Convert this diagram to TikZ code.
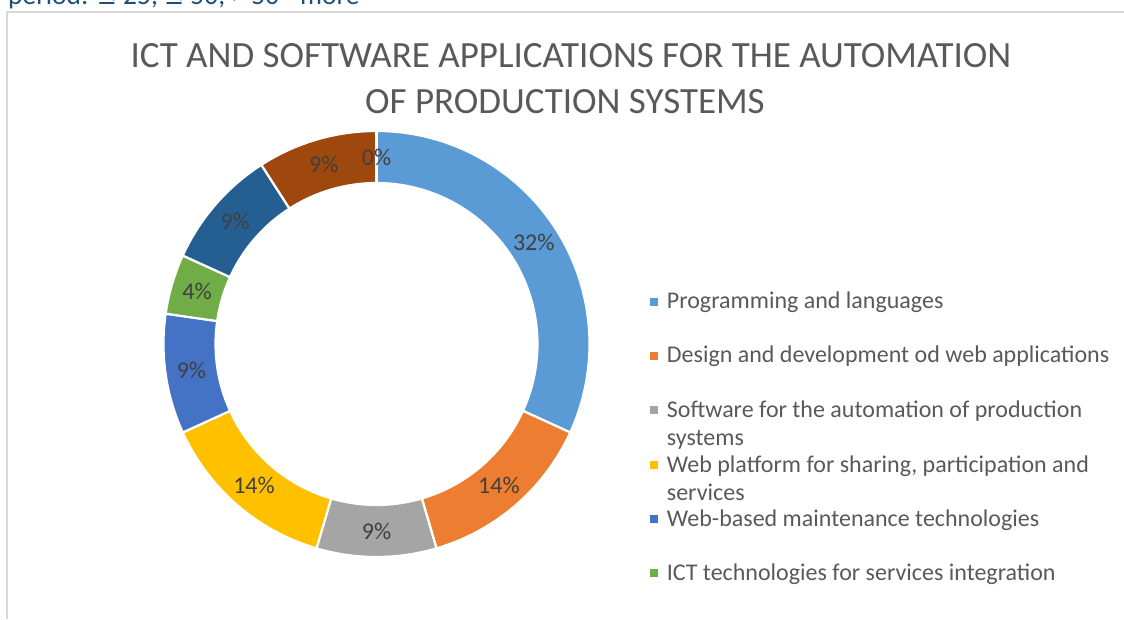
\documentclass[tikz,border=0pt]{standalone}
\usepackage{fontspec}
\setmainfont{Carlito}
\newfontfamily\symfont{DejaVu Sans}
\usetikzlibrary{positioning, calc}
\usepackage{xcolor}

\definecolor{progblue}{HTML}{5B9BD5}
\definecolor{webdevorange}{HTML}{ED7D31}
\definecolor{autogray}{HTML}{A5A5A5}
\definecolor{platyellow}{HTML}{FFC000}
\definecolor{maintblue}{HTML}{4472C4}
\definecolor{ictgreen}{HTML}{70AD47}
\definecolor{deepblue}{HTML}{255E91}
\definecolor{rustbrown}{HTML}{9E480E}
\definecolor{titlegray}{HTML}{595959}
\definecolor{pctgray}{HTML}{404040}
\definecolor{framegray}{HTML}{D9D9D9}
\definecolor{headblue}{HTML}{1F4E79}

% legend entry, first line on the baseline
\newcommand{\keyentry}[1]{\parbox[t]{460pt}{\raggedright #1}}

\begin{document}
\begin{tikzpicture}[
    x=1pt, y=1pt,
    slice/.style={draw=white, line width=2.2pt},
    pct/.style={text=pctgray, font=\fontsize{24}{28}\selectfont, inner sep=0pt},
    heading/.style={anchor=base, text=titlegray, font=\fontsize{37}{44}\selectfont, inner sep=0pt},
    keybox/.style={minimum size=8pt, inner sep=0pt},
    keytext/.style={anchor=base west, text=titlegray, inner sep=0pt,
        font=\fontsize{24}{28}\selectfont}
]
\useasboundingbox (0,0) rectangle (1124,619);
\clip (0,0) rectangle (1124,619);

% cut-off line of the page above the chart
\node[anchor=base west, text=headblue, inner sep=0pt, font=\fontsize{27.5}{32}\selectfont]
    (period) at (8,614) {period: {\symfont\fontsize{24}{28}\selectfont ≤} 25, {\symfont\fontsize{24}{28}\selectfont ≤} 50, > 50 - more};

% chart frame
\draw[framegray, line width=1.5pt] (7,0) -- (7,607) -- (1124,607);

% title
\node[heading] (title1) at (571,551) {ICT AND SOFTWARE APPLICATIONS FOR THE AUTOMATION};
\node[heading] (title2) at (565,505) {OF PRODUCTION SYSTEMS};

% ring, 22 answers in total, clockwise from the top
\begin{scope}[shift={(376.5,275)}]
\foreach \s/\v/\col/\lab [count=\i] in {0/7/progblue/32, 7/3/webdevorange/14,
        10/2/autogray/9, 12/3/platyellow/14, 15/2/maintblue/9, 17/1/ictgreen/4,
        18/2/deepblue/9, 20/2/rustbrown/9, 22/0/progblue/0} {
    \pgfmathsetmacro\a{90-\s*360/22}
    \pgfmathsetmacro\b{90-(\s+\v)*360/22}
    \pgfmathsetmacro\m{(\a+\b)/2}
    \fill[\col, slice] (\a:213) arc[start angle=\a, end angle=\b, radius=213]
        -- (\b:161) arc[start angle=\b, end angle=\a, radius=161] -- cycle;
    \node[pct] (seg\i) at (\m:187) {\lab\%};
}
\end{scope}

% legend
\foreach \col/\txt/\y [count=\i] in {
        progblue/{Programming and languages}/302,
        webdevorange/{Design and development od web applications}/356,
        autogray/{Software for the automation of production\\systems}/410,
        platyellow/{Web platform for sharing, participation and\\services}/465,
        maintblue/{Web-based maintenance technologies}/519,
        ictgreen/{ICT technologies for services integration}/573} {
    \node[keybox, fill=\col] (key\i) at (653.5,619-\y) {};
    \node[keytext, right=9pt of key\i, anchor=base west, yshift=-7pt] (leg\i) {\keyentry{\txt}};
}
\end{tikzpicture}
\end{document}
